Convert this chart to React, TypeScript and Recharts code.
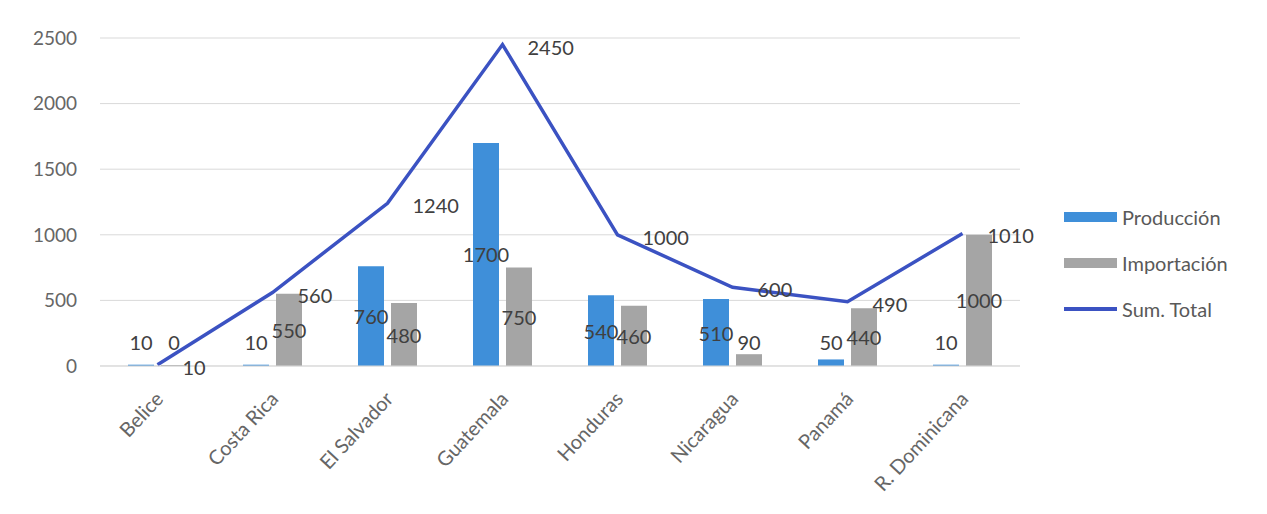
import {
  ComposedChart,
  Bar,
  Line,
  XAxis,
  YAxis,
  CartesianGrid,
  LabelList,
} from "recharts"

const paises = [
  "Belice",
  "Costa Rica",
  "El Salvador",
  "Guatemala",
  "Honduras",
  "Nicaragua",
  "Panamá",
  "R. Dominicana",
]
const produccion = [10, 10, 760, 1700, 540, 510, 50, 10]
const importacion = [0, 550, 480, 750, 460, 90, 440, 1000]
const sumTotal = [10, 560, 1240, 2450, 1000, 600, 490, 1010]
const yTicks = [0, 500, 1000, 1500, 2000, 2500]

const data = paises.map((pais, i) => ({
  pais,
  produccion: produccion[i],
  importacion: importacion[i],
  total: sumTotal[i],
}))

const FONT = "Lato, 'Open Sans', sans-serif"
const BLUE = "#3f8fd9"
const GRAY = "#a5a5a5"
const LINE = "#3b52c2"
const ZERO_Y = 366

// bar labels sit in the middle of the bar, but never closer than 24px to the baseline
const BarLabel = (props: any) => {
  const { x, y, width, height, value } = props
  const cy = Math.min(y + height / 2, ZERO_Y - 24)
  return (
    <text
      x={x + width / 2}
      y={cy}
      textAnchor="middle"
      dominantBaseline="central"
      fontSize={20}
      fill="#404040"
      fontFamily={FONT}
    >
      {value}
    </text>
  )
}

const LineLabel = (props: any) => {
  const { x, y, value } = props
  return (
    <text
      x={x + 25}
      y={y + 2}
      textAnchor="start"
      dominantBaseline="central"
      fontSize={20}
      fill="#404040"
      fontFamily={FONT}
    >
      {value}
    </text>
  )
}

const XTick = (props: any) => {
  const { x, y, payload } = props
  const tx = x + 7
  const ty = y + 26
  return (
    <text
      x={tx}
      y={ty}
      transform={`rotate(-47, ${tx}, ${ty})`}
      textAnchor="end"
      fontSize={20}
      fill="#666666"
      fontFamily={FONT}
    >
      {payload.value}
    </text>
  )
}

const legendItems = [
  { name: "Producción", color: BLUE, kind: "bar" },
  { name: "Importación", color: GRAY, kind: "bar" },
  { name: "Sum. Total", color: LINE, kind: "line" },
]

export default function App() {
  return (
    <div
      style={{
        position: "absolute",
        left: 0,
        top: 0,
        width: 1267,
        height: 514,
        background: "#fff",
      }}
    >
      <ComposedChart
        width={1267}
        height={514}
        data={data}
        margin={{ top: 38, right: 247, bottom: 8, left: 0 }}
        barSize={26}
        barGap={7}
      >
        <CartesianGrid vertical={false} stroke="#d9d9d9" />
        <XAxis
          dataKey="pais"
          axisLine={{ stroke: "#d9d9d9" }}
          tickLine={false}
          interval={0}
          height={140}
          tick={<XTick />}
        />
        <YAxis
          domain={[0, 2500]}
          ticks={yTicks}
          width={100}
          axisLine={false}
          tickLine={false}
          tickMargin={17}
          tick={{ fontSize: 19, fill: "#666666", fontFamily: FONT }}
        />
        <Bar dataKey="produccion" name="Producción" fill={BLUE} isAnimationActive={false}>
          <LabelList dataKey="produccion" content={<BarLabel />} />
        </Bar>
        <Bar
          dataKey="importacion"
          name="Importación"
          fill={GRAY}
          minPointSize={1}
          isAnimationActive={false}
        >
          <LabelList dataKey="importacion" content={<BarLabel />} />
        </Bar>
        <Line
          dataKey="total"
          name="Sum. Total"
          stroke={LINE}
          strokeWidth={3.5}
          dot={false}
          type="linear"
          isAnimationActive={false}
        >
          <LabelList dataKey="total" content={<LineLabel />} />
        </Line>
      </ComposedChart>
      <div
        style={{
          position: "absolute",
          left: 1064,
          top: 194,
          fontFamily: FONT,
          fontSize: 20,
          color: "#595959",
        }}
      >
        {legendItems.map((it) => (
          <div
            key={it.name}
            style={{ display: "flex", alignItems: "center", height: 46 }}
          >
            <span
              style={{
                display: "inline-block",
                width: 53,
                height: it.kind === "bar" ? 10 : 4,
                background: it.color,
                marginRight: 5,
              }}
            />
            {it.name}
          </div>
        ))}
      </div>
    </div>
  )
}
